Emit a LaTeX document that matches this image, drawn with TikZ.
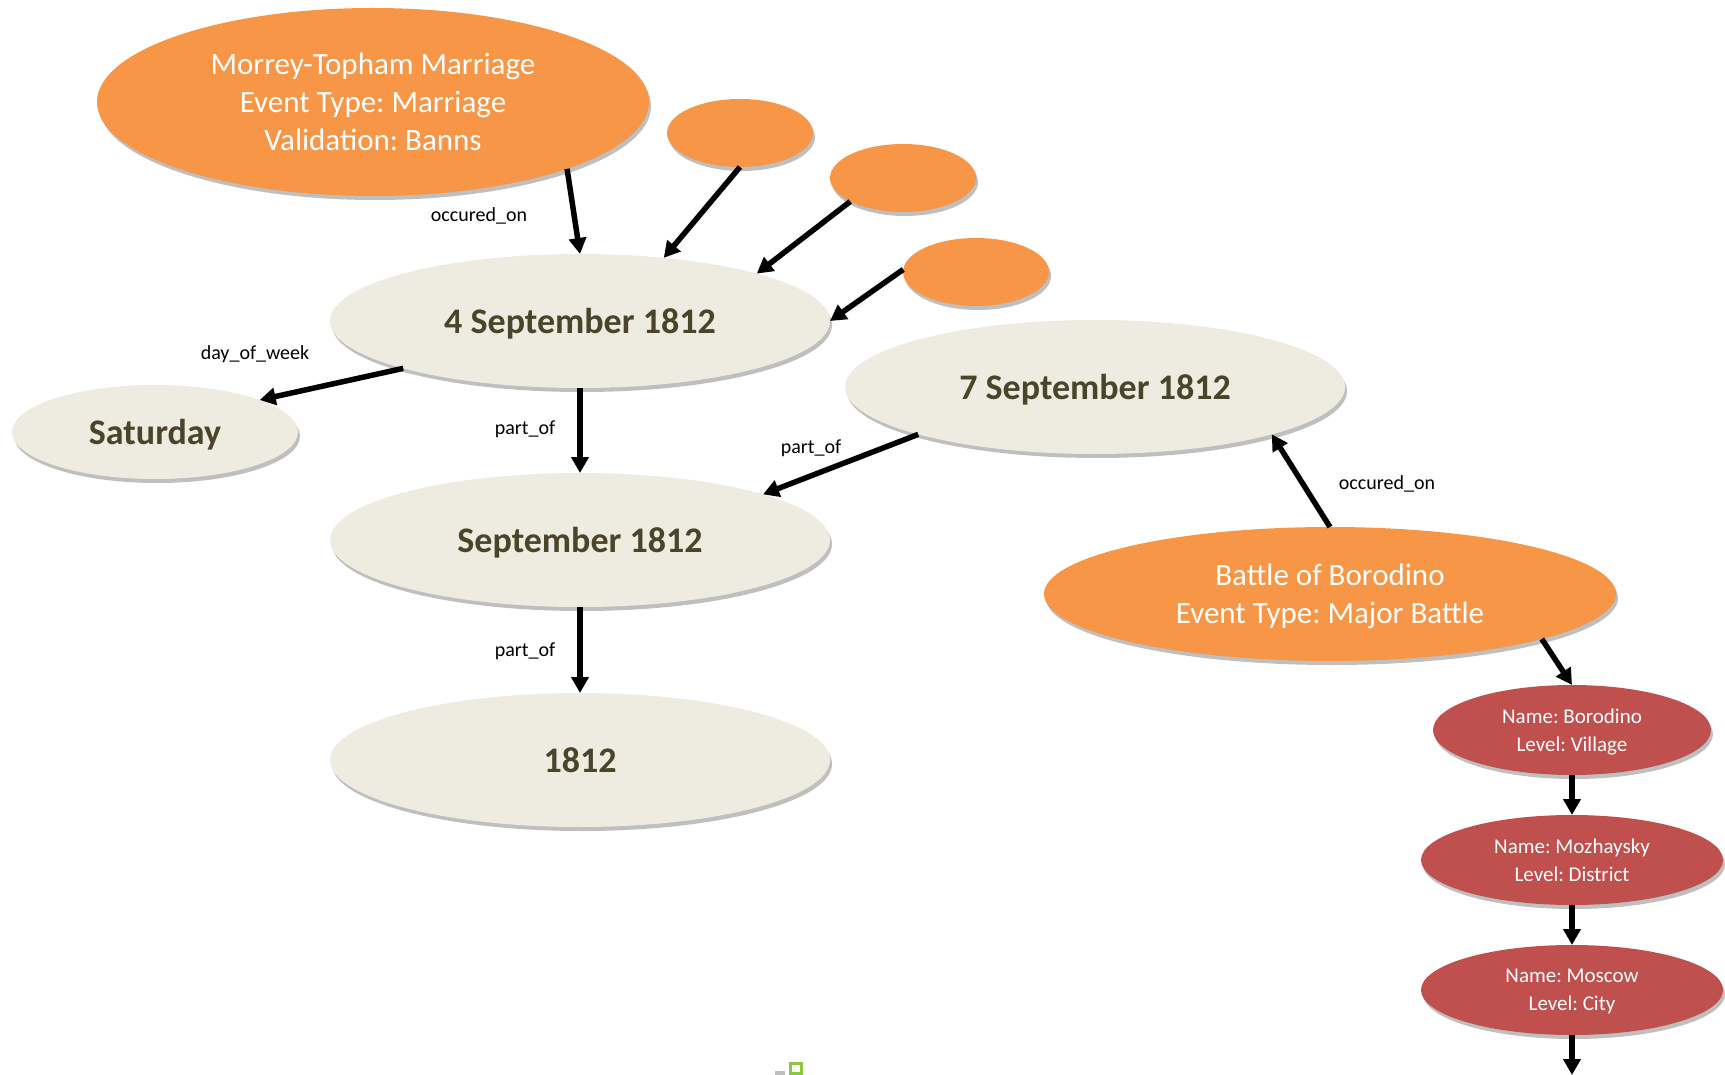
\documentclass[tikz,border=0pt]{standalone}
\usepackage{fontspec}
\setmainfont{Carlito}
\frenchspacing
\usetikzlibrary{shapes.geometric,shadows,arrows.meta}
\definecolor{evorange}{HTML}{F79646}
\definecolor{placered}{HTML}{C0504D}
\definecolor{datefill}{HTML}{EEECE1}
\definecolor{datetext}{HTML}{4A452A}
\definecolor{markgreen}{HTML}{8DC63F}
\begin{document}
\begin{tikzpicture}[x=1pt,y=-1pt,
  base/.style={ellipse, inner sep=0pt, outer sep=0pt, align=center, text depth=0pt,
    drop shadow={shadow xshift=2pt, shadow yshift=-4pt, opacity=0.25, fill=black}},
  event/.style={base, fill=evorange, text=white, font=\fontsize{31}{38}\selectfont},
  datenode/.style={base, fill=datefill, text=datetext, font=\fontsize{36}{40}\selectfont\bfseries,
    minimum width=500pt, minimum height=134pt},
  place/.style={base, fill=placered, text=white, font=\fontsize{21}{27.5}\selectfont, minimum height=90pt},
  link/.style={line width=5.5pt, -{Triangle[length=16pt,width=17pt]}},
  lbl/.style={font=\fontsize{20}{24}\selectfont, text=black, inner sep=0pt}
]
\useasboundingbox (0,0) rectangle (1725,1075);

% event nodes
\node[event, minimum width=552pt, minimum height=188pt] (marriage) at (373,102)
  {Morrey-Topham Marriage\\Event Type: Marriage\\Validation: Banns};
\node[event, minimum width=146pt, minimum height=68pt] (ev1) at (740,133) {};
\node[event, minimum width=146pt, minimum height=68pt] (ev2) at (903,178) {};
\node[event, minimum width=146pt, minimum height=68pt] (ev3) at (976,272) {};
\node[event, minimum width=572pt, minimum height=134pt] (battle) at (1330,594)
  {Battle of Borodino\\Event Type: Major Battle};

% date nodes
\node[datenode] (d4) at (580,321) {4 September 1812};
\node[datenode, minimum width=286pt, minimum height=94pt] (sat) at (155,432) {Saturday};
\node[datenode] (d7) at (1095,387) {7 September 1812};
\node[datenode] (sep) at (580,540) {September 1812};
\node[datenode] (yr) at (580,760) {1812};

% place nodes
\node[place, minimum width=278pt] (boro) at (1572,730) {Name: Borodino\\Level: Village};
\node[place, minimum width=302pt] (mozh) at (1572,860) {Name: Mozhaysky\\Level: District};
\node[place, minimum width=302pt] (mosc) at (1572,990) {Name: Moscow\\Level: City};
\coordinate (below) at (1572,1075);

% connectors
\draw[link] (marriage.-19.5) -- (d4.90);
\draw[link] (ev1.-90) -- (d4.37);
\draw[link] (ev2.204.7) -- (d4.15.3);
\draw[link] (ev3.178) -- (d4.0.5);
\draw[link] (d4.195.5) -- (sat.17.6);
\draw[link] (d4.-90) -- (sep.90);
\draw[link] (d7.195.3) -- (sep.14);
\draw[link] (sep.-90) -- (yr.90);
\draw[link] (battle.90) -- (d7.-15.3);
\draw[link] (battle.-12.9) -- (boro.90);
\draw[link] (boro.-90) -- (mozh.90);
\draw[link] (mozh.-90) -- (mosc.90);
\draw[link] (mosc.-90) -- (below);

% labels
\node[lbl] (l1) at (479,216) {occured\_on};
\node[lbl] (l2) at (255,354) {day\_of\_week};
\node[lbl] (l3) at (525,429) {part\_of};
\node[lbl] (l4) at (811,448) {part\_of};
\node[lbl] (l5) at (1387,484) {occured\_on};
\node[lbl] (l6) at (525,651) {part\_of};

% small mark at the bottom
\fill[black!25] (775,1071) rectangle (785,1075);
\draw[markgreen, line width=3pt] (790.5,1063.5) rectangle (801.5,1073.5);
\end{tikzpicture}
\end{document}
